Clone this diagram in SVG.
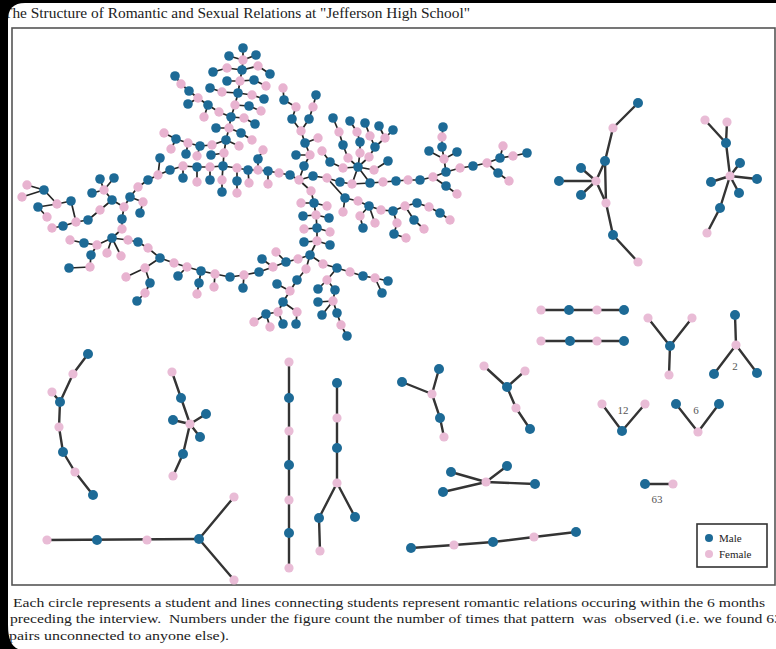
<svg xmlns="http://www.w3.org/2000/svg" xmlns:xlink="http://www.w3.org/1999/xlink" width="776" height="649" viewBox="0 0 776 649">
<defs>
<style>
.e{stroke:#262626;stroke-width:1.7;fill:none;stroke-linejoin:round;stroke-linecap:round}
.e2{stroke:#343434;stroke-width:2.4;fill:none;stroke-linejoin:round;stroke-linecap:round}
.t{font-family:"Liberation Serif","Times New Roman",serif;fill:#222}
.lab{font-family:"Liberation Serif","Times New Roman",serif;fill:#555;font-size:11px}
</style>
<circle id="bm" r="4.8" fill="#1d6a96"/>
<circle id="bf" r="4.7" fill="#e8b3d0"/>
<circle id="sm" r="5" fill="#1d6a96"/>
<circle id="sf" r="4.6" fill="#e9bcd6"/>
<clipPath id="page"><path d="M8,20 Q8,3 25,3 L776,3 L776,649 L18,649 Q8,645 8,625 Z"/></clipPath>
</defs>
<rect width="776" height="649" fill="#000"/>
<path d="M8,20 Q8,3 25,3 L776,3 L776,649 L18,649 Q8,645 8,625 Z" fill="#fff"/>
<g clip-path="url(#page)">
<text class="t" x="3" y="18" font-size="14" textLength="467" lengthAdjust="spacingAndGlyphs">The Structure of Romantic and Sexual Relations at "Jefferson High School"</text>
<rect x="12" y="28" width="763" height="557" fill="none" stroke="#555" stroke-width="1.6"/>
<text class="t" x="13" y="607" font-size="12.5" textLength="752" lengthAdjust="spacingAndGlyphs">Each circle represents a student and lines connecting students represent romantic relations occuring within the 6 months</text>
<text class="t" x="10" y="623" font-size="12.5" textLength="772" lengthAdjust="spacingAndGlyphs" xml:space="preserve">preceding the interview.  Numbers under the figure count the number of times that pattern  was  observed (i.e. we found 63</text>
<text class="t" x="9" y="640" font-size="12.5" textLength="220" lengthAdjust="spacingAndGlyphs">pairs unconnected to anyone else).</text>
</g>
<g id="connectors">
<polyline class="e" points="130,197 138,187 148,180 158,175 170,170 183,166 197,167 210,167 223,166 237,168 248,170 258,170 268,171 279,173 290,175 299,180"/>
<polyline class="e" points="223,166 224,153 226,140 229,128 231,117 235,105 238,93 240,81 242,70 243,60 243,48"/>
<polyline class="e" points="231,117 219,112 208,105 198,98 189,91 181,84 175,76"/>
<polyline class="e" points="226,140 212,145 200,146 188,143 176,139 164,133"/>
<polyline class="e" points="299,180 304,166 310,155 305,143 301,131 292,119 296,107 284,100 283,88"/>
<polyline class="e" points="301,131 309,119 313,107 316,95"/>
<polyline class="e" points="299,180 313,176 327,178 340,182 352,184 358,167 370,183 352,184"/>
<polyline class="e" points="370,183 383,182 396,181 408,180 420,180 433,177 446,172 460,168 473,166 487,163 500,158 513,156 527,153"/>
<polyline class="e" points="358,167 348,158 343,145 339,132 333,118"/>
<polyline class="e" points="358,167 360,153 360,142 357,132 350,121"/>
<polyline class="e" points="358,167 369,157 375,147 370,136 365,123"/>
<polyline class="e" points="375,147 385,138 379,126"/>
<polyline class="e" points="385,138 393,130"/>
<polyline class="e" points="358,167 374,170 388,161"/>
<polyline class="e" points="358,167 343,168 330,162 322,151"/>
<polyline class="e" points="327,178 345,198 358,201 369,206 381,210 393,211 405,206 417,203 429,207 440,213 450,220"/>
<polyline class="e" points="299,180 311,191 314,203 316,215 317,228 317,241 310,255"/>
<polyline class="e" points="310,255 298,259 286,262 273,267 259,272 244,275 230,277 215,274 201,271 187,267 174,263 160,258"/>
<polyline class="e" points="160,258 148,248 138,242 128,240 112,238 97,245 84,243 70,240"/>
<polyline class="e" points="97,245 91,255 90,267 69,268"/>
<polyline class="e" points="160,258 145,268 126,277"/>
<polyline class="e" points="145,268 150,283 145,293 137,301"/>
<polyline class="e" points="130,197 124,207 122,219 122,229 112,238"/>
<polyline class="e" points="124,207 112,200 104,190 100,179"/>
<polyline class="e" points="104,190 114,178"/>
<polyline class="e" points="104,190 92,193"/>
<polyline class="e" points="112,200 100,210 88,220 76,222 63,226 52,228"/>
<polyline class="e" points="76,222 71,201 57,204 44,190 27,185"/>
<polyline class="e" points="44,190 22,197"/>
<polyline class="e" points="57,204 38,207 47,217"/>
<polyline class="e" points="130,197 143,202 140,213"/>
<polyline class="e" points="310,255 306,269 297,280 290,291 283,302 278,312 266,314 254,322"/>
<polyline class="e" points="266,314 270,327"/>
<polyline class="e" points="290,291 277,284"/>
<polyline class="e" points="283,302 297,312 296,324"/>
<polyline class="e" points="278,312 283,324"/>
<polyline class="e" points="310,255 323,264 337,268 350,272 363,276 375,278 388,281"/>
<polyline class="e" points="375,278 382,293"/>
<polyline class="e" points="337,268 327,280 318,289"/>
<polyline class="e" points="327,280 335,290 333,301 318,302"/>
<polyline class="e" points="333,301 337,313 341,325 347,336"/>
<polyline class="e" points="333,301 322,315"/>
<polyline class="e" points="197,167 197,182"/>
<polyline class="e" points="210,167 210,180"/>
<polyline class="e" points="223,166 222,180 222,192"/>
<polyline class="e" points="237,168 237,181 237,193"/>
<polyline class="e" points="248,170 249,183"/>
<polyline class="e" points="258,170 258,159 263,150"/>
<polyline class="e" points="268,171 268,184"/>
<polyline class="e" points="183,166 183,178"/>
<polyline class="e" points="158,175 160,158"/>
<polyline class="e" points="229,56 243,60 256,55"/>
<polyline class="e" points="213,72 227,68 242,70 258,66 270,74"/>
<polyline class="e" points="227,81 240,81 254,80 266,86"/>
<polyline class="e" points="210,88 222,92 238,93 252,95 264,99"/>
<polyline class="e" points="235,105 249,106 261,111"/>
<polyline class="e" points="231,117 244,118 255,124"/>
<polyline class="e" points="216,128 229,128 241,133 252,140"/>
<polyline class="e" points="226,140 239,146"/>
<polyline class="e" points="224,153 211,155"/>
<polyline class="e" points="208,105 204,117"/>
<polyline class="e" points="198,98 188,104"/>
<polyline class="e" points="200,146 197,156"/>
<polyline class="e" points="188,143 186,154"/>
<polyline class="e" points="176,139 171,149"/>
<polyline class="e" points="310,155 296,155"/>
<polyline class="e" points="305,143 318,138"/>
<polyline class="e" points="500,158 503,146"/>
<polyline class="e" points="487,163 498,173 509,181"/>
<polyline class="e" points="446,172 444,159 442,147 442,137 443,127"/>
<polyline class="e" points="444,159 457,152"/>
<polyline class="e" points="444,159 429,151"/>
<polyline class="e" points="433,177 446,186 457,194"/>
<polyline class="e" points="369,206 360,216 363,228"/>
<polyline class="e" points="369,206 375,223"/>
<polyline class="e" points="393,211 397,223 394,234 406,238"/>
<polyline class="e" points="405,206 414,220 424,229"/>
<polyline class="e" points="345,198 343,212"/>
<polyline class="e" points="301,203 314,203 327,206"/>
<polyline class="e" points="303,216 316,215 329,218"/>
<polyline class="e" points="304,229 317,228 330,232"/>
<polyline class="e" points="304,242 317,241 330,245"/>
<polyline class="e" points="286,262 276,252"/>
<polyline class="e" points="273,267 262,259"/>
<polyline class="e" points="244,275 243,288"/>
<polyline class="e" points="215,274 214,287"/>
<polyline class="e" points="201,271 199,283 197,294"/>
<polyline class="e" points="187,267 178,276"/>
<polyline class="e" points="107,253 112,238 121,256"/>
<polyline class="e2" points="638,103 613,128 605,161 596,181 606,203 613,235 638,262"/>
<polyline class="e2" points="605,161 606,203"/>
<polyline class="e2" points="559,181 596,181"/>
<polyline class="e2" points="581,168 596,181 581,195"/>
<polyline class="e2" points="705,120 726,143 727,122"/>
<polyline class="e2" points="726,143 730,176 720,208 707,233"/>
<polyline class="e2" points="740,163 730,176 711,182"/>
<polyline class="e2" points="757,179 730,176 739,193"/>
<polyline class="e2" points="541,310 624,310"/>
<polyline class="e2" points="541,341 624,341"/>
<polyline class="e2" points="648,318 670,346 692,318"/>
<polyline class="e2" points="670,346 669,375"/>
<polyline class="e2" points="735,315 736,345"/>
<polyline class="e2" points="714,374 736,345 757,373"/>
<polyline class="e2" points="602,404 622,431 645,404"/>
<polyline class="e2" points="676,404 698,432 719,404"/>
<polyline class="e2" points="645,484 673,484"/>
<polyline class="e2" points="88,354 73,374 60,402 59,427 63,452 75,472 93,495"/>
<polyline class="e2" points="52,392 60,402"/>
<polyline class="e2" points="172,372 181,398 190,424 183,454 173,476"/>
<polyline class="e2" points="173,420 190,424 206,414"/>
<polyline class="e2" points="190,424 200,437"/>
<polyline class="e2" points="47,540 199,539"/>
<polyline class="e2" points="234,497 199,539 234,580"/>
<polyline class="e2" points="289,362 289,568"/>
<polyline class="e2" points="337,383 337,483 319,518 320,551"/>
<polyline class="e2" points="337,483 355,517"/>
<polyline class="e2" points="402,382 432,394 439,369"/>
<polyline class="e2" points="432,394 440,418 444,437"/>
<polyline class="e2" points="484,366 507,387 525,371"/>
<polyline class="e2" points="507,387 516,408 530,429"/>
<polyline class="e2" points="451,472 486,482 507,466"/>
<polyline class="e2" points="443,492 486,482 535,484"/>
<polyline class="e2" points="411,548 454,545 493,542 534,537 576,532"/>
</g>
<g id="big-component">
<g id="xa0"><use href="#bm" x="130" y="197"/></g>
<g id="xa1"><use href="#bf" x="138" y="187"/></g>
<g id="xa2"><use href="#bm" x="148" y="180"/></g>
<g id="xa3"><use href="#bf" x="158" y="175"/></g>
<g id="xa4"><use href="#bm" x="170" y="170"/></g>
<g id="xa5"><use href="#bf" x="183" y="166"/></g>
<g id="xa6"><use href="#bm" x="197" y="167"/></g>
<g id="xa7"><use href="#bf" x="210" y="167"/></g>
<g id="xa8"><use href="#bm" x="223" y="166"/></g>
<g id="xa9"><use href="#bf" x="237" y="168"/></g>
<g id="xa10"><use href="#bm" x="248" y="170"/></g>
<g id="xa11"><use href="#bf" x="258" y="170"/></g>
<g id="xa12"><use href="#bm" x="268" y="171"/></g>
<g id="xa13"><use href="#bf" x="279" y="173"/></g>
<g id="xa14"><use href="#bm" x="290" y="175"/></g>
<g id="xa15"><use href="#bf" x="299" y="180"/></g>
<g id="xb1"><use href="#bf" x="197" y="182"/></g>
<g id="xb2"><use href="#bm" x="210" y="180"/></g>
<g id="xb3"><use href="#bf" x="222" y="180"/></g>
<g id="xb4"><use href="#bm" x="222" y="192"/></g>
<g id="xb5"><use href="#bm" x="237" y="181"/></g>
<g id="xb6"><use href="#bf" x="237" y="193"/></g>
<g id="xb7"><use href="#bf" x="249" y="183"/></g>
<g id="xb8"><use href="#bm" x="258" y="159"/></g>
<g id="xb9"><use href="#bf" x="263" y="150"/></g>
<g id="xb10"><use href="#bf" x="268" y="184"/></g>
<g id="xb11"><use href="#bm" x="183" y="178"/></g>
<g id="xb12"><use href="#bm" x="160" y="158"/></g>
<g id="xt1"><use href="#bf" x="224" y="153"/></g>
<g id="xt2"><use href="#bm" x="226" y="140"/></g>
<g id="xt3"><use href="#bf" x="229" y="128"/></g>
<g id="xt4"><use href="#bm" x="231" y="117"/></g>
<g id="xt5"><use href="#bf" x="235" y="105"/></g>
<g id="xt6"><use href="#bm" x="238" y="93"/></g>
<g id="xt7"><use href="#bf" x="240" y="81"/></g>
<g id="xt8"><use href="#bm" x="242" y="70"/></g>
<g id="xt9"><use href="#bf" x="243" y="60"/></g>
<g id="xt10"><use href="#bm" x="243" y="48"/></g>
<g id="xt11"><use href="#bm" x="229" y="56"/></g>
<g id="xt12"><use href="#bm" x="256" y="55"/></g>
<g id="xt13"><use href="#bf" x="227" y="68"/></g>
<g id="xt14"><use href="#bm" x="213" y="72"/></g>
<g id="xt15"><use href="#bf" x="258" y="66"/></g>
<g id="xt16"><use href="#bm" x="270" y="74"/></g>
<g id="xt17"><use href="#bm" x="227" y="81"/></g>
<g id="xt18"><use href="#bm" x="254" y="80"/></g>
<g id="xt19"><use href="#bf" x="266" y="86"/></g>
<g id="xt20"><use href="#bf" x="222" y="92"/></g>
<g id="xt21"><use href="#bm" x="210" y="88"/></g>
<g id="xt22"><use href="#bf" x="252" y="95"/></g>
<g id="xt23"><use href="#bm" x="264" y="99"/></g>
<g id="xt25"><use href="#bm" x="249" y="106"/></g>
<g id="xt26"><use href="#bf" x="261" y="111"/></g>
<g id="xt27"><use href="#bf" x="244" y="118"/></g>
<g id="xt28"><use href="#bm" x="255" y="124"/></g>
<g id="xt29"><use href="#bm" x="216" y="128"/></g>
<g id="xt30"><use href="#bm" x="241" y="133"/></g>
<g id="xt31"><use href="#bf" x="252" y="140"/></g>
<g id="xt33"><use href="#bf" x="212" y="145"/></g>
<g id="xt34"><use href="#bf" x="239" y="146"/></g>
<g id="xt35"><use href="#bm" x="211" y="155"/></g>
<g id="xl1"><use href="#bf" x="219" y="112"/></g>
<g id="xl2"><use href="#bm" x="208" y="105"/></g>
<g id="xl3"><use href="#bf" x="198" y="98"/></g>
<g id="xl4"><use href="#bm" x="189" y="91"/></g>
<g id="xl5"><use href="#bf" x="181" y="84"/></g>
<g id="xl6"><use href="#bm" x="175" y="76"/></g>
<g id="xl7"><use href="#bf" x="204" y="117"/></g>
<g id="xl8"><use href="#bm" x="188" y="104"/></g>
<g id="xh1"><use href="#bm" x="200" y="146"/></g>
<g id="xh2"><use href="#bf" x="188" y="143"/></g>
<g id="xh3"><use href="#bm" x="176" y="139"/></g>
<g id="xh4"><use href="#bf" x="164" y="133"/></g>
<g id="xh5"><use href="#bf" x="197" y="156"/></g>
<g id="xh6"><use href="#bm" x="186" y="154"/></g>
<g id="xh7"><use href="#bf" x="171" y="149"/></g>
<g id="xu1"><use href="#bm" x="304" y="166"/></g>
<g id="xu2"><use href="#bf" x="310" y="155"/></g>
<g id="xu3"><use href="#bm" x="305" y="143"/></g>
<g id="xu4"><use href="#bf" x="301" y="131"/></g>
<g id="xu5"><use href="#bm" x="309" y="119"/></g>
<g id="xu6"><use href="#bf" x="296" y="107"/></g>
<g id="xu7"><use href="#bm" x="284" y="100"/></g>
<g id="xu8"><use href="#bf" x="283" y="88"/></g>
<g id="xu9"><use href="#bf" x="313" y="107"/></g>
<g id="xu10"><use href="#bm" x="316" y="95"/></g>
<g id="xu11"><use href="#bm" x="292" y="119"/></g>
<g id="xu13"><use href="#bm" x="296" y="155"/></g>
<g id="xu14"><use href="#bf" x="318" y="138"/></g>
<g id="xc1"><use href="#bm" x="313" y="176"/></g>
<g id="xc2"><use href="#bf" x="327" y="178"/></g>
<g id="xc3"><use href="#bm" x="340" y="182"/></g>
<g id="xs7"><use href="#bf" x="352" y="184"/></g>
<g id="xs0"><use href="#bm" x="358" y="167"/></g>
<g id="xs8"><use href="#bm" x="370" y="183"/></g>
<g id="xs11"><use href="#bf" x="348" y="158"/></g>
<g id="xs12"><use href="#bm" x="343" y="145"/></g>
<g id="xs13"><use href="#bf" x="339" y="132"/></g>
<g id="xs14"><use href="#bm" x="333" y="118"/></g>
<g id="xs21"><use href="#bf" x="360" y="153"/></g>
<g id="xs22"><use href="#bm" x="360" y="142"/></g>
<g id="xs23"><use href="#bf" x="357" y="132"/></g>
<g id="xs24"><use href="#bm" x="350" y="121"/></g>
<g id="xs31"><use href="#bf" x="369" y="157"/></g>
<g id="xs32"><use href="#bm" x="375" y="147"/></g>
<g id="xs33"><use href="#bf" x="370" y="136"/></g>
<g id="xs34"><use href="#bm" x="365" y="123"/></g>
<g id="xs35"><use href="#bf" x="385" y="138"/></g>
<g id="xs36"><use href="#bm" x="379" y="126"/></g>
<g id="xs37"><use href="#bm" x="393" y="130"/></g>
<g id="xs41"><use href="#bf" x="374" y="170"/></g>
<g id="xs42"><use href="#bm" x="388" y="161"/></g>
<g id="xs43"><use href="#bf" x="343" y="168"/></g>
<g id="xs44"><use href="#bm" x="330" y="162"/></g>
<g id="xs45"><use href="#bf" x="322" y="151"/></g>
<g id="xr1"><use href="#bf" x="383" y="182"/></g>
<g id="xr2"><use href="#bm" x="396" y="181"/></g>
<g id="xr3"><use href="#bf" x="408" y="180"/></g>
<g id="xr4"><use href="#bm" x="420" y="180"/></g>
<g id="xr5"><use href="#bf" x="433" y="177"/></g>
<g id="xr6"><use href="#bm" x="446" y="172"/></g>
<g id="xr7"><use href="#bf" x="460" y="168"/></g>
<g id="xr8"><use href="#bm" x="473" y="166"/></g>
<g id="xr9"><use href="#bf" x="487" y="163"/></g>
<g id="xr10"><use href="#bm" x="500" y="158"/></g>
<g id="xr11"><use href="#bf" x="513" y="156"/></g>
<g id="xr12"><use href="#bm" x="527" y="153"/></g>
<g id="xr13"><use href="#bf" x="503" y="146"/></g>
<g id="xr14"><use href="#bm" x="498" y="173"/></g>
<g id="xr15"><use href="#bf" x="509" y="181"/></g>
<g id="xr17"><use href="#bf" x="444" y="159"/></g>
<g id="xr18"><use href="#bm" x="442" y="147"/></g>
<g id="xr19"><use href="#bf" x="442" y="137"/></g>
<g id="xr20"><use href="#bm" x="443" y="127"/></g>
<g id="xr21"><use href="#bm" x="457" y="152"/></g>
<g id="xr22"><use href="#bm" x="429" y="151"/></g>
<g id="xr23"><use href="#bm" x="446" y="186"/></g>
<g id="xr24"><use href="#bf" x="457" y="194"/></g>
<g id="xm1"><use href="#bm" x="345" y="198"/></g>
<g id="xm2"><use href="#bf" x="358" y="201"/></g>
<g id="xm3"><use href="#bm" x="369" y="206"/></g>
<g id="xm4"><use href="#bf" x="381" y="210"/></g>
<g id="xm5"><use href="#bm" x="393" y="211"/></g>
<g id="xm6"><use href="#bf" x="405" y="206"/></g>
<g id="xm7"><use href="#bm" x="417" y="203"/></g>
<g id="xm8"><use href="#bf" x="429" y="207"/></g>
<g id="xm9"><use href="#bm" x="440" y="213"/></g>
<g id="xm10"><use href="#bf" x="450" y="220"/></g>
<g id="xm11"><use href="#bf" x="360" y="216"/></g>
<g id="xm12"><use href="#bm" x="363" y="228"/></g>
<g id="xm13"><use href="#bf" x="375" y="223"/></g>
<g id="xm14"><use href="#bf" x="397" y="223"/></g>
<g id="xm15"><use href="#bm" x="394" y="234"/></g>
<g id="xm16"><use href="#bf" x="406" y="238"/></g>
<g id="xm17"><use href="#bm" x="414" y="220"/></g>
<g id="xm18"><use href="#bf" x="424" y="229"/></g>
<g id="xm19"><use href="#bf" x="343" y="212"/></g>
<g id="xv1"><use href="#bf" x="311" y="191"/></g>
<g id="xv2"><use href="#bm" x="314" y="203"/></g>
<g id="xv3"><use href="#bf" x="316" y="215"/></g>
<g id="xv4"><use href="#bm" x="317" y="228"/></g>
<g id="xv5"><use href="#bf" x="317" y="241"/></g>
<g id="xv7"><use href="#bf" x="301" y="203"/></g>
<g id="xv8"><use href="#bf" x="327" y="206"/></g>
<g id="xv9"><use href="#bm" x="303" y="216"/></g>
<g id="xv10"><use href="#bm" x="329" y="218"/></g>
<g id="xv11"><use href="#bf" x="304" y="229"/></g>
<g id="xv12"><use href="#bf" x="330" y="232"/></g>
<g id="xv13"><use href="#bm" x="304" y="242"/></g>
<g id="xv14"><use href="#bm" x="330" y="245"/></g>
<g id="xh0"><use href="#bm" x="310" y="255"/></g>
<g id="xk01"><use href="#bf" x="298" y="259"/></g>
<g id="xk02"><use href="#bm" x="286" y="262"/></g>
<g id="xk03"><use href="#bf" x="273" y="267"/></g>
<g id="xk04"><use href="#bm" x="259" y="272"/></g>
<g id="xk05"><use href="#bf" x="244" y="275"/></g>
<g id="xk06"><use href="#bm" x="230" y="277"/></g>
<g id="xk07"><use href="#bf" x="215" y="274"/></g>
<g id="xk08"><use href="#bm" x="201" y="271"/></g>
<g id="xk09"><use href="#bf" x="187" y="267"/></g>
<g id="xk10"><use href="#bf" x="174" y="263"/></g>
<g id="xk11"><use href="#bm" x="160" y="258"/></g>
<g id="xk12"><use href="#bf" x="276" y="252"/></g>
<g id="xk13"><use href="#bm" x="262" y="259"/></g>
<g id="xk14"><use href="#bm" x="243" y="288"/></g>
<g id="xk15"><use href="#bf" x="214" y="287"/></g>
<g id="xk16"><use href="#bm" x="199" y="283"/></g>
<g id="xk17"><use href="#bf" x="197" y="294"/></g>
<g id="xk18"><use href="#bm" x="178" y="276"/></g>
<g id="xk23"><use href="#bf" x="148" y="248"/></g>
<g id="xk24"><use href="#bm" x="138" y="242"/></g>
<g id="xk25"><use href="#bf" x="128" y="240"/></g>
<g id="xk26"><use href="#bf" x="145" y="268"/></g>
<g id="xk27"><use href="#bf" x="126" y="277"/></g>
<g id="xk28"><use href="#bm" x="150" y="283"/></g>
<g id="xk29"><use href="#bf" x="145" y="293"/></g>
<g id="xk30"><use href="#bm" x="137" y="301"/></g>
<g id="xq1"><use href="#bm" x="112" y="238"/></g>
<g id="xq2"><use href="#bf" x="97" y="245"/></g>
<g id="xq3"><use href="#bm" x="84" y="243"/></g>
<g id="xq4"><use href="#bf" x="70" y="240"/></g>
<g id="xq5"><use href="#bm" x="91" y="255"/></g>
<g id="xq6"><use href="#bf" x="90" y="267"/></g>
<g id="xq7"><use href="#bm" x="69" y="268"/></g>
<g id="xq8"><use href="#bf" x="107" y="253"/></g>
<g id="xq9"><use href="#bf" x="121" y="256"/></g>
<g id="xq10"><use href="#bf" x="122" y="229"/></g>
<g id="xg1"><use href="#bf" x="124" y="207"/></g>
<g id="xg2"><use href="#bm" x="122" y="219"/></g>
<g id="xg3"><use href="#bm" x="112" y="200"/></g>
<g id="xg4"><use href="#bf" x="104" y="190"/></g>
<g id="xg5"><use href="#bm" x="100" y="179"/></g>
<g id="xg6"><use href="#bm" x="114" y="178"/></g>
<g id="xg7"><use href="#bm" x="92" y="193"/></g>
<g id="xg8"><use href="#bf" x="100" y="210"/></g>
<g id="xg9"><use href="#bm" x="88" y="220"/></g>
<g id="xg10"><use href="#bf" x="76" y="222"/></g>
<g id="xg11"><use href="#bm" x="63" y="226"/></g>
<g id="xg12"><use href="#bf" x="52" y="228"/></g>
<g id="xg14"><use href="#bf" x="143" y="202"/></g>
<g id="xg15"><use href="#bm" x="140" y="213"/></g>
<g id="xw1"><use href="#bm" x="71" y="201"/></g>
<g id="xw2"><use href="#bf" x="57" y="204"/></g>
<g id="xw3"><use href="#bm" x="44" y="190"/></g>
<g id="xw4"><use href="#bf" x="27" y="185"/></g>
<g id="xw5"><use href="#bf" x="22" y="197"/></g>
<g id="xw6"><use href="#bm" x="38" y="207"/></g>
<g id="xw7"><use href="#bf" x="47" y="217"/></g>
<g id="xd1"><use href="#bf" x="306" y="269"/></g>
<g id="xd2"><use href="#bm" x="297" y="280"/></g>
<g id="xd3"><use href="#bf" x="290" y="291"/></g>
<g id="xd4"><use href="#bm" x="283" y="302"/></g>
<g id="xd5"><use href="#bf" x="278" y="312"/></g>
<g id="xd6"><use href="#bm" x="266" y="314"/></g>
<g id="xd7"><use href="#bf" x="254" y="322"/></g>
<g id="xd8"><use href="#bf" x="270" y="327"/></g>
<g id="xd9"><use href="#bm" x="277" y="284"/></g>
<g id="xd11"><use href="#bf" x="297" y="312"/></g>
<g id="xd12"><use href="#bm" x="296" y="324"/></g>
<g id="xd13"><use href="#bm" x="283" y="324"/></g>
<g id="xe1"><use href="#bf" x="323" y="264"/></g>
<g id="xe2"><use href="#bm" x="337" y="268"/></g>
<g id="xe3"><use href="#bf" x="350" y="272"/></g>
<g id="xe4"><use href="#bm" x="363" y="276"/></g>
<g id="xe5"><use href="#bf" x="375" y="278"/></g>
<g id="xe6"><use href="#bm" x="388" y="281"/></g>
<g id="xe7"><use href="#bm" x="382" y="293"/></g>
<g id="xf1"><use href="#bf" x="327" y="280"/></g>
<g id="xf2"><use href="#bm" x="318" y="289"/></g>
<g id="xf3"><use href="#bm" x="335" y="290"/></g>
<g id="xf4"><use href="#bf" x="333" y="301"/></g>
<g id="xf5"><use href="#bm" x="318" y="302"/></g>
<g id="xf6"><use href="#bm" x="337" y="313"/></g>
<g id="xf7"><use href="#bf" x="341" y="325"/></g>
<g id="xf8"><use href="#bm" x="347" y="336"/></g>
<g id="xf9"><use href="#bm" x="322" y="315"/></g>
</g>
<g id="small-components">
<g id="A1"><use href="#sm" x="638" y="103"/></g>
<g id="A2"><use href="#sf" x="613" y="128"/></g>
<g id="A3"><use href="#sm" x="605" y="161"/></g>
<g id="A4"><use href="#sf" x="596" y="181"/></g>
<g id="A5"><use href="#sm" x="559" y="181"/></g>
<g id="A6"><use href="#sm" x="581" y="168"/></g>
<g id="A7"><use href="#sm" x="581" y="195"/></g>
<g id="A8"><use href="#sf" x="606" y="203"/></g>
<g id="A9"><use href="#sm" x="613" y="235"/></g>
<g id="A10"><use href="#sf" x="638" y="262"/></g>
<g id="B1"><use href="#sf" x="705" y="120"/></g>
<g id="B2"><use href="#sf" x="727" y="122"/></g>
<g id="B3"><use href="#sm" x="726" y="143"/></g>
<g id="B4"><use href="#sf" x="730" y="176"/></g>
<g id="B5"><use href="#sm" x="740" y="163"/></g>
<g id="B6"><use href="#sm" x="711" y="182"/></g>
<g id="B7"><use href="#sm" x="757" y="179"/></g>
<g id="B8"><use href="#sm" x="739" y="193"/></g>
<g id="B9"><use href="#sm" x="720" y="208"/></g>
<g id="B10"><use href="#sf" x="707" y="233"/></g>
<g id="C1"><use href="#sf" x="541" y="310"/></g>
<g id="C2"><use href="#sm" x="569" y="310"/></g>
<g id="C3"><use href="#sf" x="597" y="310"/></g>
<g id="C4"><use href="#sm" x="624" y="310"/></g>
<g id="D1"><use href="#sf" x="541" y="341"/></g>
<g id="D2"><use href="#sm" x="570" y="341"/></g>
<g id="D3"><use href="#sf" x="597" y="341"/></g>
<g id="D4"><use href="#sm" x="624" y="341"/></g>
<g id="E1"><use href="#sf" x="648" y="318"/></g>
<g id="E2"><use href="#sf" x="692" y="318"/></g>
<g id="E3"><use href="#sm" x="670" y="346"/></g>
<g id="E4"><use href="#sf" x="669" y="375"/></g>
<g id="F1"><use href="#sm" x="735" y="315"/></g>
<g id="F2"><use href="#sf" x="736" y="345"/></g>
<g id="F3"><use href="#sm" x="714" y="374"/></g>
<g id="F4"><use href="#sm" x="757" y="373"/></g>
<g id="G1"><use href="#sf" x="602" y="404"/></g>
<g id="G2"><use href="#sm" x="622" y="431"/></g>
<g id="G3"><use href="#sf" x="645" y="404"/></g>
<g id="H1"><use href="#sm" x="676" y="404"/></g>
<g id="H2"><use href="#sf" x="698" y="432"/></g>
<g id="H3"><use href="#sm" x="719" y="404"/></g>
<g id="I1"><use href="#sm" x="645" y="484"/></g>
<g id="I2"><use href="#sf" x="673" y="484"/></g>
<g id="J1"><use href="#sm" x="88" y="354"/></g>
<g id="J2"><use href="#sf" x="73" y="374"/></g>
<g id="J3"><use href="#sf" x="52" y="392"/></g>
<g id="J4"><use href="#sm" x="60" y="402"/></g>
<g id="J5"><use href="#sf" x="59" y="427"/></g>
<g id="J6"><use href="#sm" x="63" y="452"/></g>
<g id="J7"><use href="#sf" x="75" y="472"/></g>
<g id="J8"><use href="#sm" x="93" y="495"/></g>
<g id="K1"><use href="#sf" x="172" y="372"/></g>
<g id="K2"><use href="#sm" x="181" y="398"/></g>
<g id="K3"><use href="#sf" x="190" y="424"/></g>
<g id="K4"><use href="#sm" x="173" y="420"/></g>
<g id="K5"><use href="#sm" x="206" y="414"/></g>
<g id="K6"><use href="#sm" x="200" y="437"/></g>
<g id="K7"><use href="#sm" x="183" y="454"/></g>
<g id="K8"><use href="#sf" x="173" y="476"/></g>
<g id="M1"><use href="#sf" x="47" y="540"/></g>
<g id="M2"><use href="#sm" x="97" y="540"/></g>
<g id="M3"><use href="#sf" x="147" y="540"/></g>
<g id="M4"><use href="#sm" x="199" y="539"/></g>
<g id="M5"><use href="#sf" x="234" y="497"/></g>
<g id="M6"><use href="#sf" x="234" y="580"/></g>
<g id="N1"><use href="#sf" x="289" y="362"/></g>
<g id="N2"><use href="#sm" x="289" y="398"/></g>
<g id="N3"><use href="#sf" x="289" y="431"/></g>
<g id="N4"><use href="#sm" x="289" y="465"/></g>
<g id="N5"><use href="#sf" x="289" y="500"/></g>
<g id="N6"><use href="#sm" x="289" y="533"/></g>
<g id="N7"><use href="#sf" x="289" y="568"/></g>
<g id="O1"><use href="#sm" x="337" y="383"/></g>
<g id="O2"><use href="#sf" x="337" y="418"/></g>
<g id="O3"><use href="#sm" x="337" y="448"/></g>
<g id="O4"><use href="#sf" x="337" y="483"/></g>
<g id="O5"><use href="#sm" x="319" y="518"/></g>
<g id="O6"><use href="#sm" x="355" y="517"/></g>
<g id="O7"><use href="#sf" x="320" y="551"/></g>
<g id="P1"><use href="#sm" x="402" y="382"/></g>
<g id="P2"><use href="#sm" x="439" y="369"/></g>
<g id="P3"><use href="#sf" x="432" y="394"/></g>
<g id="P4"><use href="#sm" x="440" y="418"/></g>
<g id="P5"><use href="#sf" x="444" y="437"/></g>
<g id="Q1"><use href="#sf" x="484" y="366"/></g>
<g id="Q2"><use href="#sf" x="525" y="371"/></g>
<g id="Q3"><use href="#sm" x="507" y="387"/></g>
<g id="Q4"><use href="#sf" x="516" y="408"/></g>
<g id="Q5"><use href="#sm" x="530" y="429"/></g>
<g id="R1"><use href="#sm" x="451" y="472"/></g>
<g id="R2"><use href="#sm" x="507" y="466"/></g>
<g id="R3"><use href="#sf" x="486" y="482"/></g>
<g id="R4"><use href="#sm" x="443" y="492"/></g>
<g id="R5"><use href="#sm" x="535" y="484"/></g>
<g id="S1"><use href="#sm" x="411" y="548"/></g>
<g id="S2"><use href="#sf" x="454" y="545"/></g>
<g id="S3"><use href="#sm" x="493" y="542"/></g>
<g id="S4"><use href="#sf" x="534" y="537"/></g>
<g id="S5"><use href="#sm" x="576" y="532"/></g>
</g>
<g id="labels">
<text class="lab" x="735" y="370" text-anchor="middle">2</text>
<text class="lab" x="623" y="414" text-anchor="middle">12</text>
<text class="lab" x="696" y="414" text-anchor="middle">6</text>
<text class="lab" x="657" y="503" text-anchor="middle">63</text>
</g>
<g id="legend">
<rect x="697" y="524" width="70" height="43" fill="#fff" stroke="#333" stroke-width="1.6"/>
<circle cx="709" cy="538" r="4" fill="#1d6a96"/>
<text class="t" x="719" y="542" font-size="11" fill="#444">Male</text>
<circle cx="709" cy="554" r="4" fill="#e9bcd6"/>
<text class="t" x="719" y="558" font-size="11" fill="#444">Female</text>
</g>
</svg>
